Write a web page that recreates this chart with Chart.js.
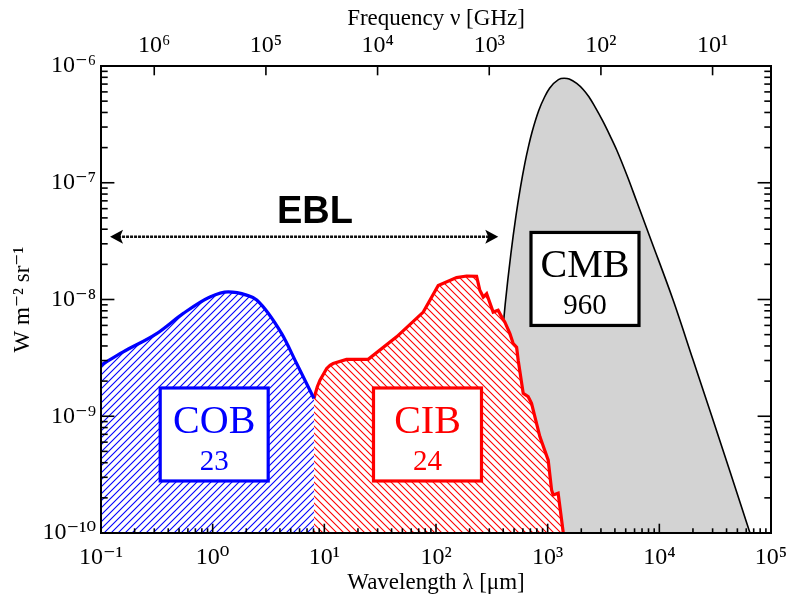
<!DOCTYPE html>
<html><head><meta charset="utf-8">
<script src="https://cdn.jsdelivr.net/npm/chart.js@4.4.1/dist/chart.umd.min.js"></script>
<style>html,body{margin:0;padding:0;background:#fff}#wrap{width:790px;height:601px;position:relative}</style>
</head><body><div id="wrap"><canvas id="c" width="790" height="601"></canvas></div>
<script>
// ---- axis ranges and ticks ----
const wavelengthMin = 0.1, wavelengthMax = 1e5;          // µm
const intensityMin = 1e-10, intensityMax = 1e-6;         // W m^-2 sr^-1
const C_UM_GHZ = 2.998e5;                                // λ[µm] * ν[GHz]
const wavelengthTicks = [0.1, 1, 10, 100, 1e3, 1e4, 1e5];
const frequencyTicks = [1e1, 1e2, 1e3, 1e4, 1e5, 1e6];
const intensityTicks = [1e-10, 1e-9, 1e-8, 1e-7, 1e-6];

// ---- COB (blue) ----
const cobWavelength = [0.1, 0.158, 0.315, 0.546, 0.946, 1.38, 2.01, 2.48, 4.15, 5.65, 8.07];
const cobIntensity  = [2.74e-9, 3.56e-9, 5.1e-9, 7.6e-9, 1.05e-8, 1.16e-8, 1.09e-8, 9.9e-9, 5.1e-9, 2.83e-9, 1.42e-9];

// ---- CIB (red) ----
const cibWavelength = [8.07, 8.65, 9.14, 10.5, 11.25, 12.0, 15.8, 24.7, 44.4, 76.9, 104.7, 152.8, 188, 231, 247, 265, 284, 325, 360, 387, 414, 459, 491, 527, 545, 604, 669, 717, 851, 1011, 1084, 1120, 1241, 1380];
const cibIntensity  = [1.42e-9, 1.79e-9, 2.04e-9, 2.57e-9, 2.73e-9, 2.83e-9, 3.07e-9, 3.07e-9, 4.79e-9, 7.8e-9, 1.32e-8, 1.54e-8, 1.59e-8, 1.58e-8, 1.20e-8, 1.05e-8, 1.12e-8, 7.8e-9, 8.1e-9, 7.1e-9, 6.4e-9, 5.1e-9, 4.2e-9, 3.9e-9, 3.0e-9, 1.57e-9, 1.47e-9, 1.29e-9, 6.7e-10, 4.2e-10, 2.34e-10, 2.12e-10, 2.19e-10, 1.0e-10];

// ---- CMB (black / grey) ----
const cmbWavelength = [270, 291, 312, 364, 416, 468, 520, 572, 624, 676, 728, 832, 936, 1040, 1248, 1404, 1560, 1820, 2080, 2340, 2600, 3120, 3640, 4160, 5200, 6240, 8500, 13240, 20000, 29510, 43000, 64860, 90000];
const cmbIntensity  = [4e-11, 1.3e-10, 3.5e-10, 2.3e-9, 9.0e-9, 2.45e-8, 5.2e-8, 9.25e-8, 1.46e-7, 2.08e-7, 2.76e-7, 4.16e-7, 5.4e-7, 6.45e-7, 7.65e-7, 7.85e-7, 7.75e-7, 7.1e-7, 6.3e-7, 5.45e-7, 4.62e-7, 3.37e-7, 2.5e-7, 1.9e-7, 1.12e-7, 7.0e-8, 3.16e-8, 1.0e-8, 3.06e-9, 1.0e-9, 3.34e-10, 1.0e-10, 3.8e-11];

// ---- labels ----
const componentNames  = ['COB', 'CIB', 'CMB'];
const componentTotals = ['23', '24', '960'];   // nW m^-2 sr^-1
const componentColors = ['#0000ff', '#ff0000', '#000000'];
// annotation anchors (data coordinates: wavelength, intensity)
const boxAnchorWavelength = [1.032, 83.9, 2159];
const boxAnchorIntensity  = [6.98e-10, 6.98e-10, 1.5e-8];
const eblArrowWavelength = [0.1205, 361];
const eblArrowIntensity = 3.45e-8;
const eblTextWavelength = 8.24, eblTextIntensity = 4.5e-8;

const SERIF = '"Liberation Serif", "DejaVu Serif", serif';
const SUP = {'-':'\u207B','0':'\u2070','1':'\u00B9','2':'\u00B2','3':'\u00B3','4':'\u2074','5':'\u2075','6':'\u2076','7':'\u2077','8':'\u2078','9':'\u2079'};
function powLabel(v){ const e = Math.round(Math.log10(v)); return '10' + String(e).split('').map(ch=>SUP[ch]).join(''); }

const ctx0 = document.getElementById('c').getContext('2d');
function hatch(color, dir){
  const s = 7, c = document.createElement('canvas'); c.width = s; c.height = s;
  const g = c.getContext('2d');
  g.fillStyle = '#fff'; g.fillRect(0,0,s,s);
  g.strokeStyle = color; g.lineWidth = 1.1; g.beginPath();
  if (dir > 0) { g.moveTo(-1,s+1); g.lineTo(s+1,-1); g.moveTo(-1,1); g.lineTo(1,-1); g.moveTo(s-1,s+1); g.lineTo(s+1,s-1); }
  else { g.moveTo(-1,-1); g.lineTo(s+1,s+1); g.moveTo(s-1,-1); g.lineTo(s+1,1); g.moveTo(-1,s-1); g.lineTo(1,s+1); }
  g.stroke();
  return ctx0.createPattern(c, 'repeat');
}
const pts = (xs, ys) => xs.map((x,i)=>({x, y: ys[i]}));

function logSteps(min, max){
  const out = [];
  const d0 = Math.round(Math.log10(min)), d1 = Math.round(Math.log10(max));
  for (let d = d0; d < d1; d++) for (let m = 1; m <= 9; m++) out.push({v: m*Math.pow(10,d), major: m===1});
  out.push({v: max, major: true});
  return out;
}

const framePlugin = {
  id: 'frameTicks',
  afterDraw(chart){
    const {ctx, chartArea: a, scales} = chart;
    ctx.save();
    ctx.strokeStyle = '#000'; ctx.lineCap = 'butt';
    const ln = (x1,y1,x2,y2)=>{ ctx.beginPath(); ctx.moveTo(x1,y1); ctx.lineTo(x2,y2); ctx.stroke(); };
    ctx.lineWidth = 1.6;
    const majX = 9.3, minX = 4.7, majY = 13.4, minY = 6.7;
    logSteps(wavelengthMin, wavelengthMax).forEach(t=>{
      const px = scales.x.getPixelForValue(t.v);
      ln(px, a.bottom, px, a.bottom - (t.major ? majX : minX));
    });
    frequencyTicks.forEach(v=>{
      const px = scales.x2.getPixelForValue(v);
      ln(px, a.top, px, a.top + majX);
    });
    logSteps(intensityMin, intensityMax).forEach(t=>{
      const py = scales.y.getPixelForValue(t.v); const L = t.major ? majY : minY;
      ln(a.left, py, a.left + L, py); ln(a.right, py, a.right - L, py);
    });
    ctx.lineWidth = 2;
    ctx.strokeRect(a.left, a.top, a.right - a.left, a.bottom - a.top);
    ctx.restore();
  }
};

const annotationPlugin = {
  id: 'ebl',
  afterDatasetsDraw(chart){
    const {ctx, scales} = chart;
    const X = scales.x, Y = scales.y;
    ctx.save();
    const bw = 108, bh = 93;
    componentNames.forEach((name, i)=>{
      const cx = X.getPixelForValue(boxAnchorWavelength[i]);
      const cy = Y.getPixelForValue(boxAnchorIntensity[i]);
      const l = cx - bw/2, t = cy - bh/2;
      ctx.fillStyle = '#fff'; ctx.fillRect(l, t, bw, bh);
      ctx.strokeStyle = componentColors[i]; ctx.lineWidth = 3.2; ctx.strokeRect(l, t, bw, bh);
      ctx.fillStyle = componentColors[i]; ctx.textAlign = 'center'; ctx.textBaseline = 'alphabetic';
      ctx.font = '40px ' + SERIF; ctx.fillText(name, cx, t + 45);
      ctx.font = '29px ' + SERIF; ctx.fillText(componentTotals[i], cx, t + 82);
    });
    const x1 = X.getPixelForValue(eblArrowWavelength[0]);
    const x2 = X.getPixelForValue(eblArrowWavelength[1]);
    const ya = Y.getPixelForValue(eblArrowIntensity);
    ctx.strokeStyle = '#111'; ctx.fillStyle = '#000'; ctx.lineWidth = 2.4;
    ctx.setLineDash([3,1]);
    ctx.beginPath(); ctx.moveTo(x1 + 8, ya); ctx.lineTo(x2 - 8, ya); ctx.stroke();
    ctx.setLineDash([]);
    const head = (tx, dir)=>{ ctx.beginPath(); ctx.moveTo(tx, ya); ctx.lineTo(tx - dir*13, ya - 7); ctx.lineTo(tx - dir*10, ya); ctx.lineTo(tx - dir*13, ya + 7); ctx.closePath(); ctx.fill(); };
    head(x1, -1); head(x2, 1);
    ctx.font = 'bold 38px "Liberation Sans", Arial, sans-serif';
    ctx.textAlign = 'center'; ctx.textBaseline = 'alphabetic'; ctx.fillStyle = '#000';
    ctx.fillText('EBL', X.getPixelForValue(eblTextWavelength), Y.getPixelForValue(eblTextIntensity));
    ctx.restore();
  }
};

const tickFont = {family: SERIF, size: 24};
const noSidePad = s => { s.paddingLeft = 0; s.paddingRight = 0; };
new Chart(ctx0, {
  type: 'line',
  data: { datasets: [
    { label: 'COB', data: pts(cobWavelength, cobIntensity), borderColor: '#0000ff', borderWidth: 3.2,
      backgroundColor: hatch('#0000ff', 1), fill: 'start', pointRadius: 0, cubicInterpolationMode: 'monotone' },
    { label: 'CIB', data: pts(cibWavelength, cibIntensity), borderColor: '#ff0000', borderWidth: 3.2,
      backgroundColor: hatch('#ff0000', -1), fill: 'start', pointRadius: 0, tension: 0 },
    { label: 'CMB', data: pts(cmbWavelength, cmbIntensity), borderColor: '#000', borderWidth: 1.6,
      backgroundColor: '#d3d3d3', fill: 'start', pointRadius: 0, cubicInterpolationMode: 'monotone' }
  ]},
  options: {
    responsive: false, animation: false, devicePixelRatio: 1,
    layout: { padding: { left: 0, right: 19, top: 0, bottom: 0 } },
    plugins: { legend: {display: false}, tooltip: {enabled: false} },
    scales: {
      x: { type: 'logarithmic', position: 'bottom', min: wavelengthMin, max: wavelengthMax,
        afterBuildTicks: s => { s.ticks = wavelengthTicks.map(v=>({value: v})); },
        afterFit: s => { s.height = 68; noSidePad(s); },
        ticks: { callback: v => powLabel(v), font: tickFont, color: '#000', padding: 2, autoSkip: false, maxRotation: 0 },
        grid: { display: false }, border: { display: false },
        title: { display: true, text: 'Wavelength \u03BB [\u03BCm]', font: {family: SERIF, size: 23}, color: '#000', padding: {top: 0, bottom: 4} } },
      x2: { type: 'logarithmic', position: 'top', min: C_UM_GHZ / wavelengthMax, max: C_UM_GHZ / wavelengthMin, reverse: true,
        afterBuildTicks: s => { s.ticks = frequencyTicks.map(v=>({value: v})); },
        afterFit: s => { s.height = 66; noSidePad(s); },
        ticks: { callback: v => powLabel(v), font: tickFont, color: '#000', padding: -2, autoSkip: false, maxRotation: 0 },
        grid: { display: false }, border: { display: false },
        title: { display: true, text: 'Frequency \u03BD [GHz]', font: {family: SERIF, size: 23}, color: '#000', padding: {top: 5, bottom: 0} } },
      y: { type: 'logarithmic', position: 'left', min: intensityMin, max: intensityMax,
        afterBuildTicks: s => { s.ticks = intensityTicks.map(v=>({value: v})); },
        afterFit: s => { s.width = 101; },
        ticks: { callback: v => powLabel(v), font: tickFont, color: '#000', padding: -3, autoSkip: false },
        grid: { display: false }, border: { display: false },
        title: { display: true, text: 'W m\u207B\u00B2 sr\u207B\u00B9', font: {family: SERIF, size: 23}, color: '#000', padding: {top: 9, bottom: 0} } }
    }
  },
  plugins: [annotationPlugin, framePlugin]
});
</script></body></html>
